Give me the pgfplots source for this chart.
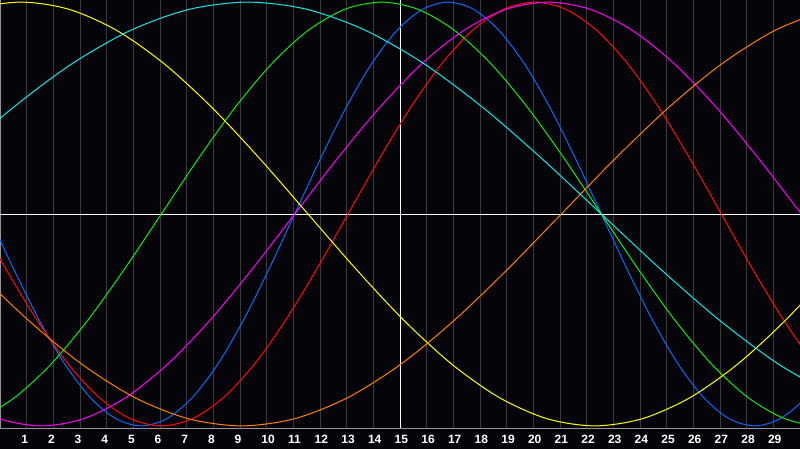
\documentclass[border=0pt]{standalone}
\usepackage{fontspec}
\setmainfont{Liberation Sans}
\usepackage{pgfplots}
\pgfplotsset{compat=1.18}
\definecolor{bg}{RGB}{5,5,9}
\definecolor{gridgray}{RGB}{58,58,62}
\definecolor{bordergray}{RGB}{150,150,150}
\definecolor{cblue}{RGB}{10,105,255}
\definecolor{cred}{RGB}{255,10,10}
\definecolor{cgreen}{RGB}{20,230,20}
\definecolor{cmag}{RGB}{255,0,255}
\definecolor{cyel}{RGB}{255,255,0}
\definecolor{corange}{RGB}{255,128,0}
\definecolor{ccyan}{RGB}{20,230,230}
\begin{document}
\begin{tikzpicture}
\fill[bg] (-2pt,-22pt) rectangle (802pt,430pt);
\begin{axis}[
  scale only axis, width=800pt, height=428pt,
  xmin=0, xmax=30, ymin=-1.01, ymax=1.01,
  axis line style={draw=bordergray, line width=1pt},
  axis background/.style={fill=bg},
  xtick={1,2,3,4,5,6,7,8,9,10,11,12,13,14,16,17,18,19,20,21,22,23,24,25,26,27,28,29},
  xticklabels={1,2,3,4,5,6,7,8,9,10,11,12,13,14,16,17,18,19,20,21,22,23,24,25,26,27,28,29},
  extra x ticks={15}, extra x tick labels={15},
  extra x tick style={grid style={white, line width=1pt}},
  ytick=\empty,
  extra y ticks={0}, extra y tick labels={},
  extra y tick style={ymajorgrids=true, grid style={white, line width=1pt}},
  major tick length=0pt,
  xmajorgrids, grid style={gridgray, line width=1pt},
  xticklabel style={font=\fontsize{12}{12}\selectfont\bfseries, text=white, anchor=north west, inner sep=0pt, xshift=-5.5pt, yshift=-7pt},
  every axis plot/.append style={line width=1pt, smooth, no markers},
]
% period 23 (blue)
\addplot[cblue] coordinates {(-1.4083,0.2588)(-0.45,0)(0.5083,-0.2588)(1.4667,-0.5)(2.425,-0.7071)(3.3833,-0.8660)(4.3417,-0.9659)(5.3,-1)(6.2583,-0.9659)(7.2167,-0.8660)(8.175,-0.7071)(9.1333,-0.5)(10.0917,-0.2588)(11.05,0)(12.0083,0.2588)(12.9667,0.5)(13.925,0.7071)(14.8833,0.8660)(15.8417,0.9659)(16.8,1)(17.7583,0.9659)(18.7167,0.8660)(19.675,0.7071)(20.6333,0.5)(21.5917,0.2588)(22.55,0)(23.5083,-0.2588)(24.4667,-0.5)(25.425,-0.7071)(26.3833,-0.8660)(27.3417,-0.9659)(28.3,-1)(29.2583,-0.9659)(30.2167,-0.8660)(31.175,-0.7071)};
% period 28 (red)
\addplot[cred] coordinates {(-2.1167,0.2588)(-0.95,0)(0.2167,-0.2588)(1.3833,-0.5)(2.55,-0.7071)(3.7167,-0.8660)(4.8833,-0.9659)(6.05,-1)(7.2167,-0.9659)(8.3833,-0.8660)(9.55,-0.7071)(10.7167,-0.5)(11.8833,-0.2588)(13.05,0)(14.2167,0.2588)(15.3833,0.5)(16.55,0.7071)(17.7167,0.8660)(18.8833,0.9659)(20.05,1)(21.2167,0.9659)(22.3833,0.8660)(23.55,0.7071)(24.7167,0.5)(25.8833,0.2588)(27.05,0)(28.2167,-0.2588)(29.3833,-0.5)(30.55,-0.7071)(31.7167,-0.8660)};
% period 33 (green)
\addplot[cgreen] coordinates {(-2.2,-1)(-0.825,-0.9659)(0.55,-0.8660)(1.925,-0.7071)(3.3,-0.5)(4.675,-0.2588)(6.05,0)(7.425,0.2588)(8.8,0.5)(10.175,0.7071)(11.55,0.8660)(12.925,0.9659)(14.3,1)(15.675,0.9659)(17.05,0.8660)(18.425,0.7071)(19.8,0.5)(21.175,0.2588)(22.55,0)(23.925,-0.2588)(25.3,-0.5)(26.675,-0.7071)(28.05,-0.8660)(29.425,-0.9659)(30.8,-1)(32.175,-0.9659)};
% period 38 (magenta)
\addplot[cmag] coordinates {(-1.6167,-0.8660)(-0.0333,-0.9659)(1.55,-1)(3.1333,-0.9659)(4.7167,-0.8660)(6.3,-0.7071)(7.8833,-0.5)(9.4667,-0.2588)(11.05,0)(12.6333,0.2588)(14.2167,0.5)(15.8,0.7071)(17.3833,0.8660)(18.9667,0.9659)(20.55,1)(22.1333,0.9659)(23.7167,0.8660)(25.3,0.7071)(26.8833,0.5)(28.4667,0.2588)(30.05,0)(31.6333,-0.2588)};
% period 43 (yellow)
\addplot[cyel] coordinates {(-2.7833,0.8660)(-0.9917,0.9659)(0.8,1)(2.5917,0.9659)(4.3833,0.8660)(6.175,0.7071)(7.9667,0.5)(9.7583,0.2588)(11.55,0)(13.3417,-0.2588)(15.1333,-0.5)(16.925,-0.7071)(18.7167,-0.8660)(20.5083,-0.9659)(22.3,-1)(24.0917,-0.9659)(25.8833,-0.8660)(27.675,-0.7071)(29.4667,-0.5)(31.2583,-0.2588)};
% period 48 (orange)
\addplot[corange] coordinates {(-2.95,0)(-0.95,-0.2588)(1.05,-0.5)(3.05,-0.7071)(5.05,-0.8660)(7.05,-0.9659)(9.05,-1)(11.05,-0.9659)(13.05,-0.8660)(15.05,-0.7071)(17.05,-0.5)(19.05,-0.2588)(21.05,0)(23.05,0.2588)(25.05,0.5)(27.05,0.7071)(29.05,0.8660)(31.05,0.9659)};
% period 53 (cyan)
\addplot[ccyan] coordinates {(-3.95,0)(-1.7417,0.2588)(0.4667,0.5)(2.675,0.7071)(4.8833,0.8660)(7.0917,0.9659)(9.3,1)(11.5083,0.9659)(13.7167,0.8660)(15.925,0.7071)(18.1333,0.5)(20.3417,0.2588)(22.55,0)(24.7583,-0.2588)(26.9667,-0.5)(29.175,-0.7071)(31.3833,-0.8660)};
\end{axis}
\pgfresetboundingbox
\path[use as bounding box] (0,-20pt) rectangle (800pt,428pt);
\end{tikzpicture}
\end{document}
